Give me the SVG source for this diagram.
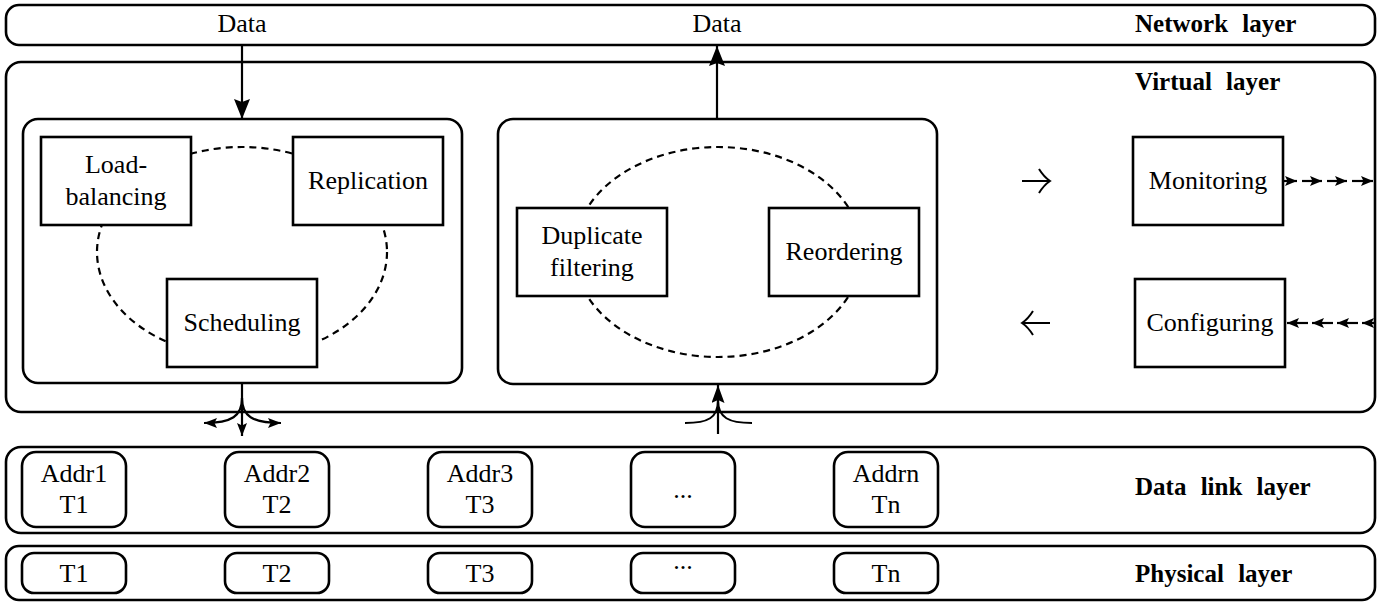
<svg xmlns="http://www.w3.org/2000/svg" width="1383" height="603" viewBox="0 0 1383 603">
<style>
.layer{fill:#fff;stroke:#000;stroke-width:2.6}
.inner{fill:#fff;stroke:#000;stroke-width:2.6}
.box{fill:#fff;stroke:#000;stroke-width:2.6}
.ell{fill:none;stroke:#000;stroke-width:2.2;stroke-dasharray:7 5}
.t{font-size:26px;text-anchor:middle;fill:#000}
.b{font-size:25px;font-weight:bold;word-spacing:8px;fill:#000}
.c{fill:none;stroke:#000;stroke-width:2.2}
.d{fill:none;stroke:#000;stroke-width:2}
</style>
<defs>
<marker id="big" markerUnits="userSpaceOnUse" markerWidth="22" markerHeight="18" refX="20" refY="8" orient="auto">
<path d="M0,0 L20,8 L0,16 L3,8 z" fill="#000"/>
</marker>
<marker id="mid" markerUnits="userSpaceOnUse" markerWidth="20" markerHeight="14" refX="18" refY="6.5" orient="auto">
<path d="M0,0 L18,6.5 L0,13 L3,6.5 z" fill="#000"/>
</marker>
<marker id="sm" markerUnits="userSpaceOnUse" markerWidth="14" markerHeight="12" refX="13" refY="5" orient="auto">
<path d="M0,0 L13,5 L0,10 L2.5,5 z" fill="#000"/>
</marker>
<marker id="tiny" markerUnits="userSpaceOnUse" markerWidth="14" markerHeight="12" refX="12" refY="5" orient="auto">
<path d="M0,0 L12,5 L0,10 L2.5,5 z" fill="#000"/>
</marker>
</defs>

<g font-family="Liberation Serif, Times New Roman, DejaVu Serif, serif">
<g id="network-layer">
<rect class="layer" x="6" y="5" width="1369" height="40" rx="13"/>
<text class="t" x="242" y="32">Data</text>
<text class="t" x="717" y="32">Data</text>
<text class="b" x="1135" y="32">Network layer</text>
</g>

<g id="virtual-layer">
<rect class="layer" x="6" y="62" width="1369" height="350" rx="15"/>
<text class="b" x="1135" y="90">Virtual layer</text>
</g>

<g id="sender-group">
<rect class="inner" x="23" y="119" width="439" height="264" rx="15"/>
<ellipse class="ell" cx="242" cy="252" rx="145" ry="105"/>
</g>
<g id="load-balancing">
<rect class="box" x="41" y="137" width="150" height="88"/>
<text class="t" x="116" y="173">Load-</text>
<text class="t" x="116" y="205">balancing</text>
</g>
<g id="replication">
<rect class="box" x="293" y="137" width="150" height="88"/>
<text class="t" x="368" y="189">Replication</text>
</g>
<g id="scheduling">
<rect class="box" x="167" y="279" width="150" height="88"/>
<text class="t" x="242" y="331">Scheduling</text>
</g>

<g id="receiver-group">
<rect class="inner" x="498" y="119" width="439" height="265" rx="15"/>
<ellipse class="ell" cx="718" cy="252" rx="144" ry="105"/>
</g>
<g id="duplicate-filtering">
<rect class="box" x="517" y="208" width="150" height="88"/>
<text class="t" x="592" y="244">Duplicate</text>
<text class="t" x="592" y="276">filtering</text>
</g>
<g id="reordering">
<rect class="box" x="769" y="208" width="150" height="88"/>
<text class="t" x="844" y="260">Reordering</text>
</g>

<g id="monitoring">
<rect class="box" x="1133" y="137" width="150" height="88"/>
<text class="t" x="1208" y="189">Monitoring</text>
</g>
<g id="configuring">
<rect class="box" x="1135" y="279" width="150" height="88"/>
<text class="t" x="1210" y="331">Configuring</text>
</g>

<g id="data-link-layer">
<rect class="layer" x="6" y="447" width="1369" height="86" rx="15"/>
<rect class="box" x="22" y="452" width="104" height="75" rx="14"/>
<text class="t" x="74" y="482">Addr1</text>
<text class="t" x="74" y="513">T1</text>
<rect class="box" x="225" y="452" width="104" height="75" rx="14"/>
<text class="t" x="277" y="482">Addr2</text>
<text class="t" x="277" y="513">T2</text>
<rect class="box" x="428" y="452" width="104" height="75" rx="14"/>
<text class="t" x="480" y="482">Addr3</text>
<text class="t" x="480" y="513">T3</text>
<rect class="box" x="631" y="452" width="104" height="75" rx="14"/>
<text class="t" x="683" y="498">...</text>
<rect class="box" x="834" y="452" width="104" height="75" rx="14"/>
<text class="t" x="886" y="482">Addrn</text>
<text class="t" x="886" y="513">Tn</text>
<text class="b" x="1135" y="495">Data link layer</text>
</g>

<g id="physical-layer">
<rect class="layer" x="6" y="546" width="1369" height="54" rx="13"/>
<rect class="box" x="22" y="553" width="104" height="40" rx="12"/>
<text class="t" x="74" y="582">T1</text>
<rect class="box" x="225" y="553" width="104" height="40" rx="12"/>
<text class="t" x="277" y="582">T2</text>
<rect class="box" x="428" y="553" width="104" height="40" rx="12"/>
<text class="t" x="480" y="582">T3</text>
<rect class="box" x="631" y="553" width="104" height="40" rx="12"/>
<text class="t" x="683" y="569">...</text>
<rect class="box" x="834" y="553" width="104" height="40" rx="12"/>
<text class="t" x="886" y="582">Tn</text>
<text class="b" x="1135" y="582">Physical layer</text>
</g>
</g>

<g id="connectors">
<line class="c" x1="242" y1="45" x2="242" y2="119" marker-end="url(#big)"/>
<line class="c" x1="717" y1="119" x2="717" y2="46" marker-end="url(#big)"/>
<line class="c" x1="242" y1="383" x2="242" y2="436" marker-end="url(#sm)"/>
<path class="c" d="M242,398 C242,416 232,423 204,423" marker-end="url(#sm)"/>
<path class="c" d="M242,398 C242,416 252,423 281,423" marker-end="url(#sm)"/>
<line class="c" x1="718" y1="434" x2="718" y2="385" marker-end="url(#mid)"/>
<path class="d" d="M685,423 C708,423 718,418 718,400"/>
<path class="d" d="M752,423 C729,423 718,418 718,400"/>
<path class="d" d="M1022,181 L1050,181 M1039,169 Q1044,177 1050,181 Q1044,185 1039,193"/>
<path class="d" d="M1050,323 L1022,323 M1033,311 Q1028,319 1022,323 Q1028,327 1033,335"/>
<line class="c" x1="1284" y1="181" x2="1297" y2="181" marker-end="url(#tiny)"/>
<line class="c" x1="1302" y1="181" x2="1322" y2="181" marker-end="url(#tiny)"/>
<line class="c" x1="1327" y1="181" x2="1347" y2="181" marker-end="url(#tiny)"/>
<line class="c" x1="1352" y1="181" x2="1373" y2="181" marker-end="url(#tiny)"/>
<line class="c" x1="1308" y1="323" x2="1287" y2="323" marker-end="url(#tiny)"/>
<line class="c" x1="1333" y1="323" x2="1312" y2="323" marker-end="url(#tiny)"/>
<line class="c" x1="1358" y1="323" x2="1337" y2="323" marker-end="url(#tiny)"/>
<line class="c" x1="1374" y1="323" x2="1362" y2="323" marker-end="url(#tiny)"/>
</g>
</svg>
